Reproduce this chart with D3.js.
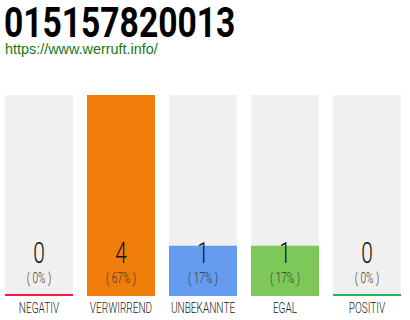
<!DOCTYPE html>
<html>
<head>
<meta charset="utf-8">
<script src="https://cdn.jsdelivr.net/npm/d3@7"></script>
<style>
  body { margin: 0; background: #fff; }
</style>
</head>
<body>
<svg id="chart"></svg>
<script>
var titel = "015157820013";
var url = "https://www.werruft.info/";
var kategorien = ["NEGATIV", "VERWIRREND", "UNBEKANNTE", "EGAL", "POSITIV"];
var werte = [0, 4, 1, 1, 0];
var prozente = ["0%", "67%", "17%", "17%", "0%"];
var farben = ["#ff1744", "#f07c0a", "#659cf0", "#7ec85a", "#1db954"];

var svgWidth = 410, svgHeight = 320;
var svg = d3.select("#chart")
    .attr("width", svgWidth)
    .attr("height", svgHeight);

// Kopf
svg.append("text")
    .attr("transform", "translate(4,37) scale(0.8,1)")
    .attr("font-family", "Roboto, sans-serif")
    .attr("font-weight", 700)
    .attr("font-size", 42)
    .attr("fill", "#000")
    .text(titel);

svg.append("text")
    .attr("x", 5)
    .attr("y", 54)
    .attr("font-family", "Liberation Sans, Arial, sans-serif")
    .attr("font-size", 14.4)
    .attr("fill", "#147a14")
    .text(url);

// Balken: breite 68, abstand 82
var oben = 95, unten = 296;
var x = d3.scaleBand()
    .domain(kategorien)
    .range([5, 5 + 82 * 5 - 14])
    .paddingInner(14 / 82)
    .paddingOuter(0);

var y = d3.scaleLinear()
    .domain([0, d3.max(werte)])
    .range([unten, oben]);

var g = svg.append("g");

var spalte = g.selectAll("g.spalte")
    .data(kategorien)
    .enter()
    .append("g")
    .attr("class", "spalte");

spalte.append("rect")
    .attr("x", function(d) { return x(d); })
    .attr("y", oben)
    .attr("width", x.bandwidth())
    .attr("height", unten - oben)
    .attr("fill", "#f0f0f0");

spalte.append("rect")
    .attr("x", function(d) { return x(d); })
    .attr("y", function(d, i) { return werte[i] == 0 ? unten - 2 : y(werte[i]); })
    .attr("width", x.bandwidth())
    .attr("height", function(d, i) { return werte[i] == 0 ? 2 : unten - y(werte[i]); })
    .attr("fill", function(d, i) { return farben[i]; });

function schmal(sel, sx) {
    sel.attr("transform", function(d) {
        return "translate(" + (x(d) + x.bandwidth() / 2) + ",0) scale(" + sx + ",1)";
    });
}

spalte.append("text")
    .call(schmal, 0.72)
    .attr("y", 263)
    .attr("text-anchor", "middle")
    .attr("font-family", "Roboto, sans-serif")
    .attr("font-weight", 300)
    .attr("font-size", 29)
    .attr("fill", "#111")
    .text(function(d, i) { return werte[i]; });

spalte.append("text")
    .call(schmal, 0.72)
    .attr("y", 283)
    .attr("text-anchor", "middle")
    .attr("font-family", "Roboto, sans-serif")
    .attr("font-weight", 300)
    .attr("font-size", 14)
    .attr("fill", "#333")
    .text(function(d, i) { return "( " + prozente[i] + " )"; });

spalte.append("text")
    .call(schmal, 0.72)
    .attr("y", 313)
    .attr("text-anchor", "middle")
    .attr("font-family", "Roboto, sans-serif")
    .attr("font-weight", 300)
    .attr("font-size", 14)
    .attr("fill", "#222")
    .text(function(d) { return d; });
</script>
</body>
</html>
